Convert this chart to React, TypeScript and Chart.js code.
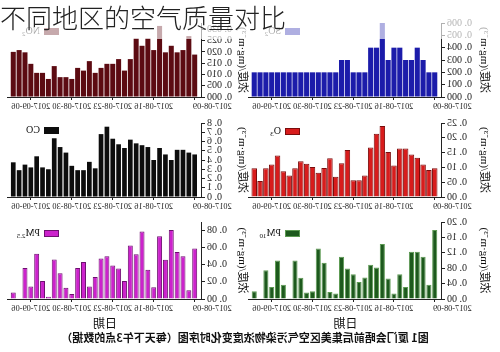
import React, { useEffect, useRef } from "react";
import { Chart, registerables } from "chart.js";

Chart.register(...registerables);

// ---------- data ----------
const days = [
  "2017-08-09", "2017-08-10", "2017-08-11", "2017-08-12", "2017-08-13", "2017-08-14", "2017-08-15", "2017-08-16",
  "2017-08-17", "2017-08-18", "2017-08-19", "2017-08-20", "2017-08-21", "2017-08-22", "2017-08-23", "2017-08-24",
  "2017-08-25", "2017-08-26", "2017-08-27", "2017-08-28", "2017-08-29", "2017-08-30", "2017-08-31", "2017-09-01",
  "2017-09-02", "2017-09-03", "2017-09-04", "2017-09-05", "2017-09-06", "2017-09-07", "2017-09-08", "2017-09-09",
];
const tickDays = ["2017-08-09", "2017-08-16", "2017-08-23", "2017-08-30", "2017-09-06"];

const so2 = [0.002, 0.002, 0.003, 0.004, 0.003, 0.003, 0.004, 0.004, 0.003, 0.006, 0.004, 0.004, 0.002, 0.002, 0.002, 0.003,
  0.003, 0.002, 0.002, 0.002, 0.002, 0.002, 0.002, 0.002, 0.002, 0.002, 0.002, 0.002, 0.002, 0.002, 0.002, 0.002];
const no2 = [0.0188, 0.027, 0.0208, 0.0198, 0.0227, 0.0198, 0.0315, 0.0208, 0.026, 0.0227, 0.026, 0.0168, 0.0117, 0.0168, 0.0147, 0.0147,
  0.0129, 0.0107, 0.0159, 0.0117, 0.0129, 0.008, 0.0088, 0.0088, 0.0137, 0.008, 0.0107, 0.0107, 0.0147, 0.0198, 0.0208, 0.020];
const o3 = [0.097, 0.091, 0.11, 0.133, 0.144, 0.164, 0.164, 0.106, 0.152, 0.24, 0.214, 0.167, 0.073, 0.057, 0.057, 0.159,
  0.114, 0.068, 0.131, 0.098, 0.082, 0.101, 0.112, 0.121, 0.097, 0.073, 0.087, 0.14, 0.11, 0.097, 0.054, 0.097];
const co = [0.46, 0.48, 0.51, 0.51, 0.40, 0.46, 0.53, 0.40, 0.54, 0.56, 0.58, 0.62, 0.53, 0.57, 0.63, 0.76,
  0.68, 0.31, 0.38, 0.29, 0.29, 0.337, 0.48, 0.54, 0.635, 0.30, 0.32, 0.44, 0.32, 0.35, 0.29, 0.375];
const pm10 = [0.179, 0.037, 0.11, 0.123, 0.123, 0.031, 0.064, 0.014, 0.053, 0.143, 0.082, 0.089, 0.056, 0.044, 0.064, 0.079,
  0.11, 0.014, 0.018, 0.094, 0.131, 0.020, 0.017, 0.055, 0.10, 0.002, 0.037, 0.10, 0.031, 0.075, null, 0.020];
const pm25 = [0.0587, 0.0103, 0.0495, 0.0545, 0.080, 0.0457, 0.073, 0.0137, 0.034, 0.0785, 0.052, 0.062, 0.021, 0.0354, 0.039, 0.0495,
  0.047, 0.0255, 0.0145, 0.043, 0.036, 0.0057, 0.013, 0.030, 0.046, 0.0027, 0.021, 0.0526, 0.0145, 0.036, null, 0.0076];

const yTitle = "浓度/(mg·m⁻³)";
const xTitle = "日期";
const pageTitle = "不同地区的空气质量对比";
const caption = "图1  厦门会晤前后集美区空气污染物浓度变化时序图（每天下午3点的数据）";

// ---------- styles ----------
const serif = '"Liberation Serif", "Times New Roman", serif';
const cjkSerif = '"Liberation Serif", "Noto Sans CJK SC", sans-serif';

type Spec = {
  values: (number | null)[];
  name: string;
  sub: string;
  color: string;
  border: string;
  bw: number;
  bp: number;
  left: number;
  top: number;
  width: number;
  height: number;
  padRight: number;
  yW: number;
  titlePad: number;
  max: number;
  step: number;
  dec: number;
  xH: number;
  legendDy: number;
  bottomRow: boolean;
};

const specs: Spec[] = [
  { values: so2, name: "SO", sub: "2", color: "#1c1caa", border: "#1c1caa", bw: 0, bp: 0.88, left: 0, top: 15, width: 252, height: 98, padRight: 1, yW: 58, titlePad: 9.4, max: 0.006, step: 0.001, dec: 3, xH: 16, legendDy: 5, bottomRow: false },
  { values: no2, name: "NO", sub: "2", color: "#5c0b12", border: "#5c0b12", bw: 0, bp: 0.86, left: 250, top: 15, width: 250, height: 98, padRight: 8, yW: 48, titlePad: 1.9, max: 0.0328, step: 0.005, dec: 3, xH: 16, legendDy: 5, bottomRow: false },
  { values: o3, name: "O", sub: "3", color: "#d81c1c", border: "#7a0c0c", bw: 1, bp: 0.95, left: 0, top: 115, width: 252, height: 98, padRight: 1, yW: 58, titlePad: 9.4, max: 0.25, step: 0.05, dec: 2, xH: 16, legendDy: 5, bottomRow: false },
  { values: co, name: "CO", sub: "", color: "#0d0d0d", border: "#0d0d0d", bw: 0, bp: 0.8, left: 250, top: 115, width: 250, height: 98, padRight: 8, yW: 48, titlePad: 1.9, max: 0.8, step: 0.1, dec: 1, xH: 16, legendDy: 4, bottomRow: false },
  { values: pm10, name: "PM", sub: "10", color: "#1d5a1d", border: "#5c9a52", bw: 1, bp: 0.88, left: 0, top: 214, width: 252, height: 119, padRight: 1, yW: 58, titlePad: 9.4, max: 0.2, step: 0.04, dec: 2, xH: 34, legendDy: 8, bottomRow: true },
  { values: pm25, name: "PM", sub: "2.5", color: "#cc22cc", border: "#6e1070", bw: 1, bp: 0.85, left: 250, top: 214, width: 250, height: 119, padRight: 8, yW: 48, titlePad: 1.9, max: 0.0894, step: 0.02, dec: 2, xH: 34, legendDy: 8, bottomRow: true },
];

const boxLegend = {
  id: "boxLegend",
  afterDraw(chart: any, _args: any, opts: any) {
    const { ctx, chartArea } = chart;
    const ds = chart.data.datasets[0];
    const x = chartArea.right - 51;
    const y = chartArea.top + opts.dy;
    ctx.save();
    ctx.fillStyle = ds.backgroundColor;
    ctx.fillRect(x, y, 15, 7);
    if (ds.borderWidth) {
      ctx.strokeStyle = ds.borderColor;
      ctx.lineWidth = 1;
      ctx.strokeRect(x + 0.5, y + 0.5, 14, 6);
    }
    ctx.fillStyle = "#111";
    ctx.textBaseline = "middle";
    ctx.textAlign = "left";
    ctx.font = `10px ${serif}`;
    ctx.fillText(opts.name, x + 19, y + 3.5);
    const w = ctx.measureText(opts.name).width;
    if (opts.sub) {
      ctx.font = `7px ${serif}`;
      ctx.fillText(opts.sub, x + 19 + w, y + 6.5);
    }
    ctx.restore();
  },
};

function makeConfig(s: Spec): any {
  const tickIdx = tickDays.map((d) => days.indexOf(d));
  return {
    type: "bar",
    data: {
      datasets: [
        {
          data: s.values.map((v, i) => ({ x: i, y: v })),
          backgroundColor: s.color,
          borderColor: s.border,
          borderWidth: s.bw,
          barPercentage: s.bp,
          categoryPercentage: 1,
        },
      ],
    },
    options: {
      animation: false,
      responsive: false,
      devicePixelRatio: 1,
      layout: { padding: { top: 6, left: 0, right: s.padRight, bottom: 0 } },
      plugins: {
        legend: { display: false },
        tooltip: { enabled: false },
        boxLegend: { name: s.name, sub: s.sub, dy: s.legendDy },
      },
      scales: {
        x: {
          type: "linear",
          offset: false,
          min: -1.25,
          max: 31.9,
          afterBuildTicks: (sc: any) => {
            sc.ticks = tickIdx.map((v) => ({ value: v }));
          },
          afterFit: (sc: any) => {
            sc.height = s.xH;
          },
          grid: { offset: false, drawOnChartArea: false, tickLength: 3, color: "#222" },
          border: { display: true, color: "#222", width: 1 },
          ticks: {
            autoSkip: false,
            maxRotation: 0,
            minRotation: 0,
            padding: 2,
            color: "#1a1a1a",
            font: { family: serif, size: 8.3 },
            callback: (v: number) => (v === 0 ? days[v] + "                 " : days[v]),
          },
          title: s.bottomRow
            ? {
                display: true,
                text: xTitle,
                color: "#111",
                font: { family: '"Noto Sans CJK SC", sans-serif', size: 12 },
                padding: { top: 0, bottom: 2 },
              }
            : { display: false },
        },
        y: {
          min: 0,
          max: s.max,
          afterFit: (sc: any) => {
            sc.width = s.yW;
          },
          grid: { drawOnChartArea: false, tickLength: 3, color: "#222" },
          border: { display: true, color: "#222", width: 1 },
          ticks: {
            stepSize: s.step,
            includeBounds: false,
            autoSkip: false,
            padding: 2,
            color: "#1a1a1a",
            font: { family: serif, size: 10 },
            callback: (v: number) => v.toFixed(s.dec).replace(".", ". "),
          },
          title: {
            display: true,
            text: yTitle,
            color: "#111",
            font: { family: cjkSerif, size: 11 },
            padding: { top: s.titlePad, bottom: 0 },
          },
        },
      },
    },
    plugins: [boxLegend],
  };
}

function Panel({ spec }: { spec: Spec }) {
  const ref = useRef<HTMLCanvasElement | null>(null);
  useEffect(() => {
    if (!ref.current) return;
    const chart = new Chart(ref.current, makeConfig(spec));
    return () => chart.destroy();
  }, [spec]);
  return (
    <canvas
      ref={ref}
      width={spec.width}
      height={spec.height}
      style={{ position: "absolute", left: spec.left, top: spec.top, width: spec.width, height: spec.height }}
    />
  );
}

export default function App() {
  return (
    <>
      <div
        style={{
          position: "fixed",
          left: 0,
          top: 0,
          width: 500,
          height: 352,
          background: "#fff",
          transform: "scaleX(-1)",
          overflow: "hidden",
        }}
      >
        {specs.map((s, i) => (
          <Panel key={i} spec={s} />
        ))}
        <div
          style={{
            position: "absolute",
            left: 5,
            top: 329,
            width: 500,
            textAlign: "center",
            font: '600 11px "Noto Sans CJK SC", sans-serif',
            lineHeight: "16px",
            color: "#111",
            whiteSpace: "nowrap",
          }}
        >
          {caption}
        </div>
      </div>
      <div
        style={{
          position: "fixed",
          left: 0,
          top: 0,
          width: 500,
          height: 39,
          background: "rgba(255,255,255,0.65)",
          font: '300 26px "Noto Sans CJK SC", sans-serif',
          lineHeight: "34px",
          color: "#222",
          whiteSpace: "nowrap",
          zIndex: 2,
        }}
      >
        {pageTitle}
      </div>
    </>
  );
}
